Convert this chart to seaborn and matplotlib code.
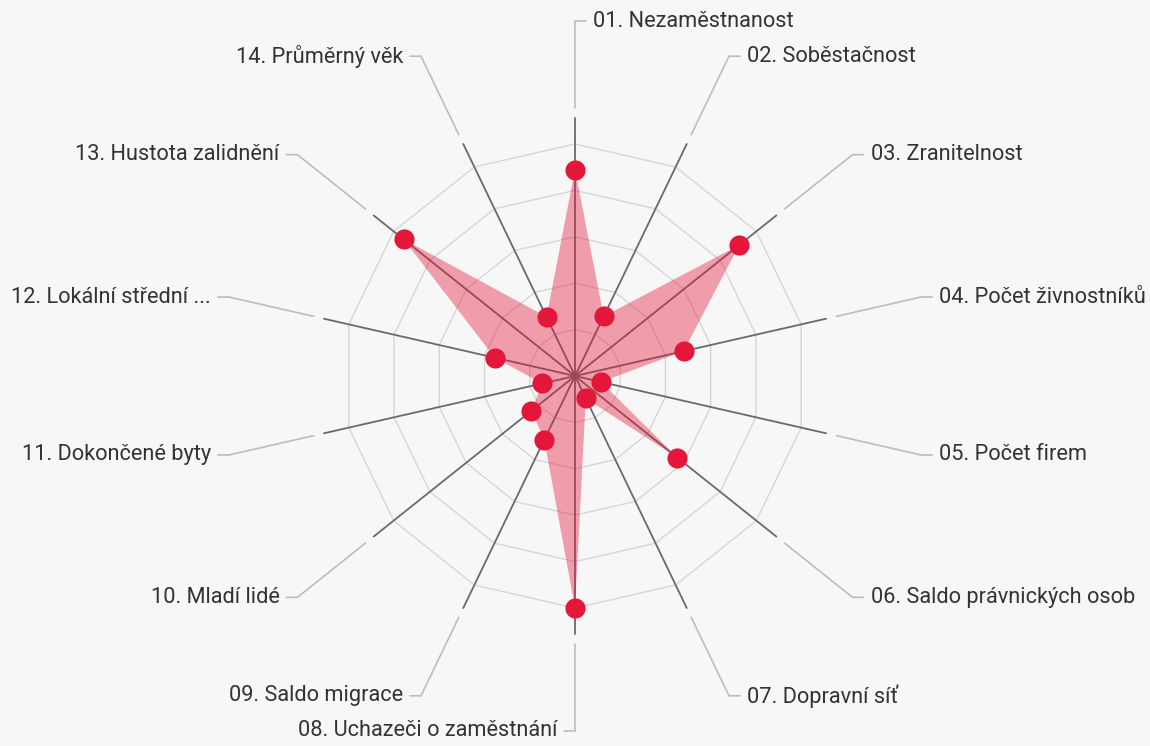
import numpy as np
import pandas as pd
import matplotlib
matplotlib.use("Agg")
import matplotlib.pyplot as plt
import seaborn as sns

# Indicator names and their scores (0-100 scale)
labels = [
    "01. Nezaměstnanost",
    "02. Soběstačnost",
    "03. Zranitelnost",
    "04. Počet živnostníků",
    "05. Počet firem",
    "06. Saldo právnických osob",
    "07. Dopravní síť",
    "08. Uchazeči o zaměstnání",
    "09. Saldo migrace",
    "10. Mladí lidé",
    "11. Dokončené byty",
    "12. Lokální střední ...",
    "13. Hustota zalidnění",
    "14. Průměrný věk",
]
values = [89, 28.5, 90.5, 48, 11.5, 56.5, 10.7, 100, 30.5, 24, 14.5, 35.5, 94.5, 28.3]
ring_levels = [20, 40, 60, 80, 100]

BG = "#f7f7f7"
RED = "#e4163a"

sns.set_theme(style="white")
plt.rcParams["font.family"] = ["Roboto", "DejaVu Sans"]

n = len(labels)
angles = np.arange(n) * 2 * np.pi / n
df = pd.DataFrame({"label": labels, "value": values, "angle": angles})

W, H = 1150, 746
fig = plt.figure(figsize=(W / 100, H / 100), dpi=100, facecolor=BG)

# polar axes: centre at (575, 376) px from top, value 100 -> 232 px
rmax = 160
rad_px = 232 * rmax / 100
cx, cy = 575, H - 376
ax = fig.add_axes([(cx - rad_px) / W, (cy - rad_px) / H, 2 * rad_px / W, 2 * rad_px / H],
                  projection="polar")
ax.set_theta_zero_location("N")
ax.set_theta_direction(-1)
ax.set_ylim(0, rmax)
ax.set_facecolor("none")
ax.grid(False)
ax.set_xticks([])
ax.set_yticks([])
ax.spines["polar"].set_visible(False)

# polygonal grid rings
closed = np.append(angles, angles[0])
for lv in ring_levels:
    ax.plot(closed, [lv] * (n + 1), color="#d6d6d6", lw=1.0, zorder=1)

# spokes and label leaders
spoke_end, lead_start, elbow_r = 111, 115.5, 153
for lab, th in zip(labels, angles):
    ax.plot([th, th], [0, spoke_end], color="#6a6a6a", lw=1.3, zorder=2)
    ax.plot([th, th], [lead_start, elbow_r], color="#bdbdbd", lw=1.2, zorder=2,
            clip_on=False)
    deg = np.degrees(th)
    right = deg < 179
    sign = 1 if right else -1
    ax.annotate("", xy=(th, elbow_r), xytext=(sign * 11, 0), textcoords="offset pixels",
                arrowprops=dict(arrowstyle="-", color="#bdbdbd", lw=1.2,
                                shrinkA=0, shrinkB=0),
                annotation_clip=False)
    ax.annotate(lab, xy=(th, elbow_r), xytext=(sign * 18, 0), textcoords="offset pixels",
                ha="left" if right else "right", va="center", fontsize=15.7,
                color="#333333", annotation_clip=False)

# filled score area
ax.fill(closed, np.append(df["value"], df["value"].iloc[0]), color=RED, alpha=0.4,
        lw=0, zorder=3)

# score markers
sns.scatterplot(data=df, x="angle", y="value", ax=ax, color=RED, s=210,
                linewidth=0, zorder=4, clip_on=False, legend=False)
ax.set_xlabel("")
ax.set_ylabel("")

fig.savefig("out.png", dpi=100, facecolor=BG)
